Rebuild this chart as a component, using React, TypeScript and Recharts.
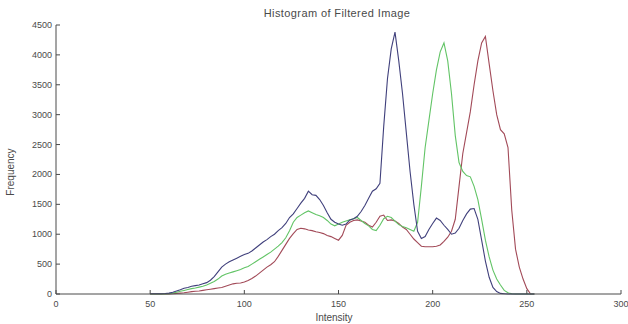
import { LineChart, Line, XAxis, YAxis } from 'recharts';

const intensity = [
  50, 52, 54, 56, 58, 60, 62, 64, 66, 68, 70, 72, 74, 76, 78, 80, 82, 84, 86, 88,
  90, 92, 94, 96, 98, 100, 102, 104, 106, 108, 110, 112, 114, 116, 118, 120, 122, 124, 126, 128,
  130, 132, 134, 136, 138, 140, 142, 144, 146, 148, 150, 152, 154, 156, 158, 160, 162, 164, 166, 168,
  170, 172, 174, 176, 178, 180, 182, 184, 186, 188, 190, 192, 194, 196, 198, 200, 202, 204, 206, 208,
  210, 212, 214, 216, 218, 220, 222, 224, 226, 228, 230, 232, 234, 236, 238, 240, 242, 244, 246, 248,
  250, 252, 254,
];

const redCounts = [
  0, 0, 0, 0, 0, 2, 5, 10, 15, 20, 30, 40, 45, 50, 60, 70, 80, 90, 100, 110,
  130, 150, 170, 180, 185, 200, 225, 260, 300, 350, 400, 450, 490, 540, 630, 730, 830, 930, 1010, 1080,
  1100, 1090, 1070, 1060, 1040, 1030, 1010, 980, 960, 930, 900, 980, 1150, 1200, 1230, 1240, 1220, 1200, 1150, 1120,
  1200, 1300, 1320, 1230, 1240, 1220, 1180, 1120, 1080, 1000, 920, 860, 800, 790, 790, 790, 800, 820, 880, 950,
  1050, 1250, 1800, 2350, 2700, 3050, 3500, 3900, 4200, 4310, 3850, 3400, 3000, 2750, 2680, 2450, 1400, 750, 450, 250,
  90, 0, 0,
];

const greenCounts = [
  0, 0, 0, 0, 2, 5, 15, 30, 45, 60, 75, 90, 100, 115, 130, 150, 180, 210, 250, 300,
  330, 350, 370, 390, 410, 440, 460, 500, 540, 580, 620, 660, 700, 750, 800, 860, 940, 1060, 1200, 1280,
  1320, 1360, 1390, 1360, 1330, 1310, 1280, 1230, 1170, 1140, 1170, 1200, 1220, 1240, 1260, 1280, 1230, 1180, 1140, 1080,
  1060, 1150, 1260, 1300, 1280, 1220, 1160, 1130, 1110, 1080, 1050, 1200, 1800, 2450, 2900, 3350, 3750, 4050, 4200, 3900,
  3350, 2650, 2200, 2050, 1980, 1960, 1800, 1580, 1250, 900, 620, 400, 250, 150, 60, 20, 5, 0, 0, 0,
  0, 0, 0,
];

const blueCounts = [
  5, 5, 5, 5, 8, 15, 30, 50, 70, 95, 110, 130, 140, 150, 170, 190, 230, 290, 370, 450,
  500, 540, 570, 600, 630, 660, 680, 720, 770, 820, 870, 910, 960, 1000, 1060, 1110, 1180, 1280, 1340, 1430,
  1520, 1600, 1720, 1660, 1650, 1580, 1480, 1360, 1250, 1200, 1170, 1150, 1170, 1240, 1260, 1300, 1380, 1480, 1600, 1720,
  1760, 1850, 2800, 3600, 4100, 4380, 3900, 3350, 2700, 2050, 1500, 1050, 930, 960, 1080, 1180, 1270, 1230, 1150, 1080,
  1000, 1020, 1100, 1230, 1340, 1420, 1430, 1250, 900, 550, 280, 110, 40, 10, 5, 0, 0, 0, 0, 0,
  0, 0, 0,
];

const xTicks = [0, 50, 100, 150, 200, 250, 300];
const yTicks = [0, 500, 1000, 1500, 2000, 2500, 3000, 3500, 4000, 4500];

const rows = intensity.map((v, i) => ({
  v,
  red: redCounts[i],
  green: greenCounts[i],
  blue: blueCounts[i],
}));

const axisColor = '#4a4a4a';
const textColor = '#4a4a4a';
const fontFamily = '"Liberation Sans", Arial, sans-serif';

const BottomTick = (props: any) => {
  const { x, y, payload } = props;
  return (
    <g>
      <line x1={x} y1={y} x2={x} y2={y - 4} stroke={axisColor} />
      <text x={x} y={y + 13} textAnchor="middle" fontSize={9} fill={textColor} fontFamily={fontFamily}>
        {payload.value}
      </text>
    </g>
  );
};

const LeftTick = (props: any) => {
  const { x, y, payload } = props;
  return (
    <g>
      <line x1={x} y1={y} x2={x + 4} y2={y} stroke={axisColor} />
      <text x={x - 4} y={y + 3} textAnchor="end" fontSize={9} fill={textColor} fontFamily={fontFamily}>
        {payload.value}
      </text>
    </g>
  );
};

const TopTick = (props: any) => {
  const { x, y } = props;
  return <line x1={x} y1={y} x2={x} y2={y + 4} stroke={axisColor} />;
};

const RightTick = (props: any) => {
  const { x, y } = props;
  return <line x1={x} y1={y} x2={x - 4} y2={y} stroke={axisColor} />;
};

export default function App() {
  return (
    <div style={{ position: 'absolute', left: 0, top: 0, width: 628, height: 324, background: '#fff' }}>
      <LineChart width={628} height={324} data={rows} margin={{ top: 25, right: 7, left: 0, bottom: 0 }}>
        <XAxis
          xAxisId="b"
          dataKey="v"
          type="number"
          domain={[0, 300]}
          ticks={xTicks}
          height={30}
          tickSize={0}
          tickMargin={0}
          tickLine={false}
          tick={<BottomTick />}
          axisLine={{ stroke: axisColor }}
          interval={0}
        />
        <XAxis
          xAxisId="t"
          orientation="top"
          dataKey="v"
          type="number"
          domain={[0, 300]}
          ticks={xTicks}
          height={0}
          tickSize={0}
          tickMargin={0}
          tickLine={false}
          tick={<TopTick />}
          axisLine={{ stroke: axisColor }}
          interval={0}
        />
        <YAxis
          yAxisId="l"
          type="number"
          domain={[0, 4500]}
          ticks={yTicks}
          width={56}
          tickSize={0}
          tickMargin={0}
          tickLine={false}
          tick={<LeftTick />}
          axisLine={{ stroke: axisColor }}
          interval={0}
        />
        <YAxis
          yAxisId="r"
          orientation="right"
          type="number"
          domain={[0, 4500]}
          ticks={yTicks}
          width={0}
          tickSize={0}
          tickMargin={0}
          tickLine={false}
          tick={<RightTick />}
          axisLine={{ stroke: axisColor }}
          interval={0}
        />
        <Line xAxisId="b" yAxisId="l" type="linear" dataKey="red" stroke="#a24a58" strokeWidth={1.1} dot={false} isAnimationActive={false} />
        <Line xAxisId="b" yAxisId="l" type="linear" dataKey="green" stroke="#62c466" strokeWidth={1.1} dot={false} isAnimationActive={false} />
        <Line xAxisId="b" yAxisId="l" type="linear" dataKey="blue" stroke="#40407c" strokeWidth={1.1} dot={false} isAnimationActive={false} />
      </LineChart>
      <svg width={628} height={324} style={{ position: 'absolute', left: 0, top: 0, pointerEvents: 'none' }}>
        <text x={337} y={17} textAnchor="middle" fontSize={11} letterSpacing={0.4} fill={textColor} fontFamily={fontFamily}>
          Histogram of Filtered Image
        </text>
        <text x={334} y={321} textAnchor="middle" fontSize={10} fill={textColor} fontFamily={fontFamily}>
          Intensity
        </text>
        <text
          x={0}
          y={0}
          transform="translate(14,172) rotate(-90)"
          textAnchor="middle"
          fontSize={10}
          fill={textColor}
          fontFamily={fontFamily}
        >
          Frequency
        </text>
      </svg>
    </div>
  );
}
